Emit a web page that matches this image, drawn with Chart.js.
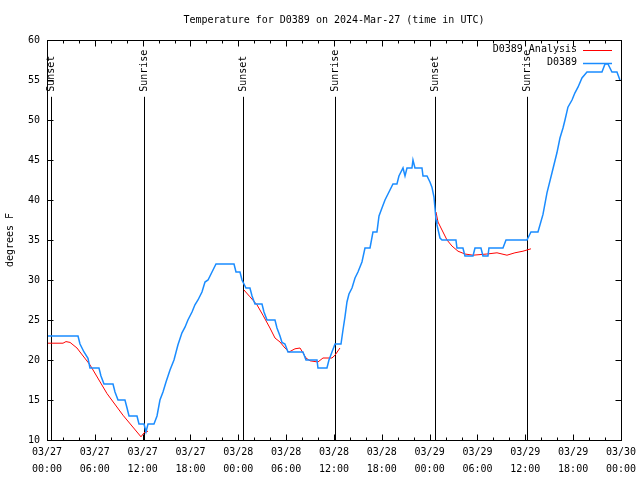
<!DOCTYPE html>
<html>
<head>
<meta charset="utf-8">
<script src="https://cdn.jsdelivr.net/npm/chart.js@4.4.1/dist/chart.umd.min.js"></script>
<style>
    html, body { margin: 0; padding: 0; background: #fff; }
    #wrap { width: 640px; height: 480px; }
</style>
</head>
<body>
<div id="wrap"><canvas id="chart"></canvas></div>
<script>
// hours since 03/27 00:00 UTC
const obsHours = [0, 3.89, 4.14, 4.64, 5.14, 5.39, 6.52, 6.77, 7.15, 8.28, 8.53, 8.91, 9.78, 10.04, 10.29, 11.29, 11.54, 12.17, 12.42, 12.67,
    13.42, 13.80, 14.17, 14.55, 14.93, 15.43, 15.93, 16.43, 16.93, 17.31, 17.68, 18.19, 18.56, 18.94, 19.44, 19.82, 20.20, 20.70, 21.20,
    23.46, 23.71, 24.21, 24.46, 24.96, 25.46, 25.72, 26.09, 26.97, 27.22, 27.60, 28.60, 28.85, 29.23, 29.48, 29.85, 30.23, 32.11, 32.49,
    33.87, 33.99, 35.12, 35.37, 35.75, 36.13, 36.88, 37.13, 37.38, 37.63, 37.88, 38.26, 38.64, 39.01, 39.51, 39.89, 40.52, 40.89, 41.39,
    41.65, 42.02, 42.40, 42.90, 43.40, 43.90, 44.15, 44.66, 44.91, 45.16, 45.78, 45.91, 46.16, 47.04, 47.17, 47.67, 48.04, 48.29, 48.54,
    48.67, 48.80, 48.92, 49.30, 49.55, 51.30, 51.43, 52.18, 52.43, 53.44, 53.69, 54.44, 54.69, 55.32, 55.44, 57.20, 57.58, 60.21, 60.71,
    61.59, 62.22, 62.72, 63.35, 63.97, 64.35, 64.73, 64.98, 65.35, 65.86, 66.23, 66.61, 67.11, 67.74, 69.62, 70.00, 70.37, 70.87, 71.50, 71.87];
const obsTemps = [23, 23, 22, 21, 20.2, 19, 19, 18, 17, 17, 16, 15, 15, 14, 13, 13, 12, 12, 11, 12,
    12, 13, 15, 16, 17.25, 18.75, 20, 21.9, 23.4, 24.1, 25, 26, 26.9, 27.5, 28.5, 29.75, 30, 31, 32,
    32, 31, 31, 30, 29, 29, 28, 27, 27, 26, 25, 25, 24, 23, 22.2, 22, 21, 21, 20,
    20, 19, 19, 20, 21, 22, 22, 23.75, 25.4, 27.25, 28.25, 29, 30.25, 31, 32.25, 34, 34, 36, 36,
    38, 39, 40, 41, 42, 42, 43, 44, 43, 44, 44, 45, 44, 44, 43, 43, 42.25, 41.6, 40.4,
    39, 37.5, 36.9, 35.25, 35, 35, 34, 34, 33, 33, 34, 34, 33, 33, 34, 34, 35, 35, 36,
    36, 38.2, 40.9, 43.4, 45.9, 47.75, 49, 50, 51.6, 52.5, 53.4, 54.1, 55.25, 56, 56, 57, 57, 56, 56, 55];

// analysis only exists overnight; null breaks the line between nights
const anaHours = [0, 2.01, 2.38, 2.89, 3.26, 3.76, 4.14, 5.39, 7.53, 9.53, 11.79, 12.17, 12.67, 18,
    24.71, 25.46, 26.34, 27.09, 27.97, 28.60, 29.23, 29.85, 30.36, 31.11, 31.74, 32.11, 32.49, 32.99, 33.99, 34.62, 35.75, 36.13, 36.75, 42,
    48.80, 49.05, 49.55, 50.18, 50.80, 51.56, 52.43, 53.44, 55.19, 56.45, 57.70, 58.70, 59.71, 60.71];
const anaTemps = [22.1, 22.1, 22.3, 22.2, 21.9, 21.5, 21, 19.4, 15.8, 13.1, 10.4, 10.9, 11.1, null,
    28.75, 27.9, 26.9, 25.6, 24, 22.75, 22.25, 21.5, 21, 21.4, 21.5, 20.9, 20.25, 19.9, 19.75, 20.25, 20.25, 20.6, 21.5, null,
    38.5, 37.25, 36.25, 35, 34.25, 33.6, 33.25, 33.1, 33.25, 33.4, 33.1, 33.4, 33.6, 33.9];

const sunHours = [0.5, 12.17, 24.62, 36.13, 48.63, 60.17];
const sunLabels = ['Sunset', 'Sunrise', 'Sunset', 'Sunrise', 'Sunset', 'Sunrise'];

const xTickDates = ['03/27', '03/27', '03/27', '03/27', '03/28', '03/28', '03/28', '03/28', '03/29', '03/29', '03/29', '03/29', '03/30'];
const xTickTimes = ['00:00', '06:00', '12:00', '18:00', '00:00', '06:00', '12:00', '18:00', '00:00', '06:00', '12:00', '18:00', '00:00'];

const FONT = 'DejaVu Sans Mono';

// frame, inward ticks, sunrise/sunset markers and the legend, gnuplot style
const gnuplotDecor = {
    id: 'gnuplotDecor',
    beforeDatasetsDraw(chart) {
        const { ctx, chartArea: a, scales: { x, y } } = chart;
        ctx.save();
        ctx.strokeStyle = '#000';
        ctx.fillStyle = '#000';
        ctx.lineWidth = 1;
        ctx.font = `10px ${FONT}`;
        const lineTop = y.getPixelForValue(52.9);
        sunHours.forEach((h, i) => {
            const px = Math.round(x.getPixelForValue(h)) + 0.5;
            ctx.beginPath();
            ctx.moveTo(px, a.bottom);
            ctx.lineTo(px, lineTop);
            ctx.stroke();
            ctx.save();
            ctx.translate(px, lineTop - 5);
            ctx.rotate(-Math.PI / 2);
            ctx.textAlign = 'left';
            ctx.textBaseline = 'middle';
            ctx.fillText(sunLabels[i], 0, 0);
            ctx.restore();
        });
        ctx.restore();
    },
    afterDraw(chart) {
        const { ctx, chartArea: a, scales: { x, y } } = chart;
        ctx.save();
        ctx.strokeStyle = '#000';
        ctx.lineWidth = 1;
        const L = Math.round(a.left) + 0.5, R = Math.round(a.right) + 0.5;
        const T = Math.round(a.top) + 0.5, B = Math.round(a.bottom) + 0.5;
        ctx.beginPath();
        for (let h = 0; h <= 72; h += 2) {
            const px = Math.round(x.getPixelForValue(h)) + 0.5;
            const len = h % 6 === 0 ? 6 : 3;
            ctx.moveTo(px, B); ctx.lineTo(px, B - len);
            ctx.moveTo(px, T); ctx.lineTo(px, T + len);
        }
        for (let v = 10; v <= 60; v += 5) {
            const py = Math.round(y.getPixelForValue(v)) + 0.5;
            ctx.moveTo(L, py); ctx.lineTo(L + 6, py);
            ctx.moveTo(R, py); ctx.lineTo(R - 6, py);
        }
        ctx.stroke();
        ctx.strokeRect(L, T, R - L, B - T);

        // legend, top right inside the plot
        ctx.font = `10px ${FONT}`;
        ctx.textAlign = 'right';
        ctx.textBaseline = 'middle';
        chart.data.datasets.forEach((ds, i) => {
            const ly = 49.5 + i * 13;
            ctx.fillStyle = '#000';
            ctx.fillText(ds.label, 577, ly);
            ctx.strokeStyle = ds.borderColor;
            ctx.lineWidth = ds.borderWidth;
            ctx.beginPath();
            ctx.moveTo(583, Math.round(ly) + 0.5);
            ctx.lineTo(612, Math.round(ly) + 0.5);
            ctx.stroke();
        });
        ctx.restore();
    }
};

Chart.defaults.font.family = FONT;
Chart.defaults.font.size = 10;
Chart.defaults.color = '#000';

new Chart(document.getElementById('chart'), {
    type: 'line',
    data: {
        datasets: [{
            label: 'D0389 Analysis',
            data: anaHours.map((h, i) => ({ x: h, y: anaTemps[i] })),
            borderColor: '#ff0000',
            borderWidth: 1,
            pointRadius: 0,
            spanGaps: false,
            order: 2
        }, {
            label: 'D0389',
            data: obsHours.map((h, i) => ({ x: h, y: obsTemps[i] })),
            borderColor: '#1a8cff',
            borderWidth: 1.5,
            pointRadius: 0,
            order: 1
        }]
    },
    options: {
        responsive: true,
        maintainAspectRatio: false,
        animation: false,
        layout: { padding: { left: 0, right: 19, top: 0, bottom: 0 } },
        plugins: {
            legend: { display: false },
            tooltip: { enabled: false },
            title: {
                display: true,
                fullSize: false,
                text: 'Temperature for D0389 on 2024-Mar-27 (time in UTC)',
                font: { size: 10, weight: 'normal' },
                padding: { top: 14, bottom: 14 }
            }
        },
        scales: {
            x: {
                type: 'linear',
                min: 0,
                max: 72,
                grid: { display: false, drawTicks: false },
                border: { display: false },
                ticks: {
                    stepSize: 6,
                    autoSkip: false,
                    maxRotation: 0,
                    padding: 4,
                    font: { size: 10, lineHeight: 1.7 },
                    callback: (v) => {
                        const i = Math.round(v / 6);
                        return [xTickDates[i], xTickTimes[i]];
                    }
                },
                afterFit: (s) => { s.height = 40; }
            },
            y: {
                min: 10,
                max: 60,
                grid: { display: false, drawTicks: false },
                border: { display: false },
                ticks: { stepSize: 5, padding: 7 },
                title: { display: true, text: 'degrees F', padding: { top: 4, bottom: 0 } },
                afterFit: (s) => { s.width = 47; }
            }
        }
    },
    plugins: [gnuplotDecor]
});
</script>
</body>
</html>
